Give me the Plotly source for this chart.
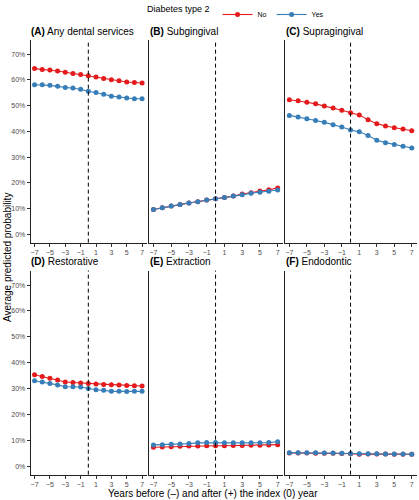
import plotly.graph_objects as go

# ---------------- data ----------------
years = [-7, -6, -5, -4, -3, -2, -1, 0, 1, 2, 3, 4, 5, 6, 7]
index_year = 0

panel_titles = ["Any dental services", "Subgingival", "Supragingival",
                "Restorative", "Extraction", "Endodontic"]
panel_letters = ["(A)", "(B)", "(C)", "(D)", "(E)", "(F)"]

# Average predicted probability (%) — Diabetes type 2 = No
any_no = [64.4, 64.1, 63.9, 63.5, 63.0, 62.5, 62.1, 61.6, 61.1, 60.6, 60.1, 59.7, 59.2, 59.0, 58.8]
sub_no = [9.6, 10.3, 11.0, 11.5, 12.1, 12.6, 13.3, 13.8, 14.3, 14.8, 15.6, 16.1, 16.8, 17.3, 18.0]
supra_no = [52.3, 51.9, 51.3, 50.7, 49.9, 49.1, 48.2, 47.2, 46.4, 44.5, 43.0, 42.1, 41.4, 40.9, 40.2]
rest_no = [35.3, 34.6, 34.0, 33.3, 32.5, 32.3, 32.1, 31.9, 31.7, 31.6, 31.5, 31.4, 31.2, 31.1, 31.0]
extr_no = [7.3, 7.4, 7.5, 7.7, 7.8, 7.8, 7.9, 7.9, 7.9, 8.0, 8.0, 8.1, 8.1, 8.2, 8.3]
endo_no = [5.1, 5.1, 5.1, 5.0, 5.0, 5.0, 4.9, 4.8, 4.6, 4.7, 4.7, 4.7, 4.6, 4.6, 4.6]

# Diabetes type 2 = Yes
any_yes = [58.1, 58.1, 57.9, 57.5, 57.1, 56.9, 56.4, 55.6, 55.1, 54.4, 53.7, 53.4, 53.0, 52.7, 52.7]
sub_yes = [9.6, 10.3, 11.0, 11.5, 12.1, 12.6, 13.3, 13.8, 14.3, 14.8, 15.3, 15.9, 16.3, 16.7, 17.2]
supra_yes = [46.2, 45.6, 44.9, 44.2, 43.5, 42.6, 41.7, 40.5, 39.8, 38.4, 36.5, 35.6, 34.9, 34.2, 33.5]
rest_yes = [33.0, 32.5, 31.9, 31.4, 30.7, 30.7, 30.6, 30.0, 29.5, 29.3, 28.9, 28.9, 28.8, 28.9, 28.9]
extr_yes = [8.2, 8.3, 8.5, 8.6, 8.7, 9.0, 9.1, 9.1, 9.0, 9.0, 9.0, 9.0, 9.0, 9.1, 9.4]
endo_yes = [5.2, 5.2, 5.2, 5.2, 5.1, 5.1, 5.0, 4.9, 4.8, 4.8, 4.8, 4.7, 4.7, 4.7, 4.6]

series_no = [any_no, sub_no, supra_no, rest_no, extr_no, endo_no]
series_yes = [any_yes, sub_yes, supra_yes, rest_yes, extr_yes, endo_yes]

x_tick_vals = [-7, -5, -3, -1, 1, 3, 5, 7]
x_tick_labels = ["\u22127", "\u22125", "\u22123", "\u22121", "1", "3", "5", "7"]
y_tick_vals = [0, 10, 20, 30, 40, 50, 60, 70]
y_tick_labels = ["0%", "10%", "20%", "30%", "40%", "50%", "60%", "70%"]

group_labels = ["No", "Yes"]
group_colors = ["#E41A1C", "#377EB8"]

# ---------------- layout geometry ----------------
W, H = 419, 500
col_px = [(30.7, 146.7), (149.0, 283.0), (285.0, 417.0)]
row_px = [(33.3, 239.0), (267.3, 474.3)]
title_y_px = [25.0, 258.3]

FONT = "Liberation Sans, Arial, sans-serif"

fig = go.Figure()
layout_axes = {}
shapes = []
annotations = []

for i in range(6):
    r, c = divmod(i, 3)
    ax = "" if i == 0 else str(i + 1)
    xa, ya = "x" + ax, "y" + ax
    for g, (vals, name, col) in enumerate(zip([series_no[i], series_yes[i]], group_labels, group_colors)):
        fig.add_trace(go.Scatter(
            x=years, y=vals, mode="lines+markers", name=name,
            line=dict(color=col, width=1.1),
            marker=dict(color=col, size=5),
            xaxis=xa, yaxis=ya, legendgroup=name, showlegend=(i == 0),
        ))
    x0, x1 = col_px[c]
    y0, y1 = row_px[r]
    layout_axes["xaxis" + ax] = dict(
        domain=[x0 / W, x1 / W], anchor=ya, range=[-7.5, 7.6],
        tickvals=x_tick_vals, ticktext=x_tick_labels,
        ticks="outside", ticklen=3, tickcolor="#333333", tickwidth=1,
        showline=True, linecolor="#222222", linewidth=1,
        showgrid=False, zeroline=False,
        tickfont=dict(size=7, color="#4D4D4D", family=FONT),
    )
    layout_axes["yaxis" + ax] = dict(
        domain=[1 - y1 / H, 1 - y0 / H], anchor=xa, range=[-3.3, 75.6],
        tickvals=y_tick_vals, ticktext=y_tick_labels,
        showticklabels=(c == 0), ticks="outside" if c == 0 else "",
        ticklen=3, tickcolor="#333333", tickwidth=1,
        showline=True, linecolor="#222222", linewidth=1,
        showgrid=False, zeroline=False,
        tickfont=dict(size=7, color="#4D4D4D", family=FONT),
    )
    shapes.append(dict(type="line", xref=xa, yref=ya + " domain",
                       x0=index_year, x1=index_year, y0=0, y1=1,
                       line=dict(color="black", width=1, dash="4px,3px")))
    annotations.append(dict(
        text="<b>" + panel_letters[i] + "</b> " + panel_titles[i],
        xref="paper", yref="paper", x=(x0 - 1.5) / W, y=1 - title_y_px[r] / H,
        xanchor="left", yanchor="middle", showarrow=False,
        font=dict(size=10, color="black", family=FONT),
    ))

annotations.append(dict(
    text="Years before (\u2013) and after (+) the index (0) year",
    xref="paper", yref="paper", x=213 / W, y=1 - 493 / H,
    xanchor="center", yanchor="middle", showarrow=False,
    font=dict(size=10, color="black", family=FONT),
))
annotations.append(dict(
    text="Average predicted probability",
    xref="paper", yref="paper", x=7.5 / W, y=1 - 254 / H, textangle=-90,
    xanchor="center", yanchor="middle", showarrow=False,
    font=dict(size=10, color="black", family=FONT),
))

fig.update_layout(
    width=W, height=H,
    margin=dict(l=0, r=0, t=0, b=0),
    paper_bgcolor="white", plot_bgcolor="white",
    font=dict(family=FONT),
    shapes=shapes, annotations=annotations,
    legend=dict(
        orientation="h", x=145 / W, y=1.015, xanchor="left", yanchor="top",
        title=dict(text="Diabetes type 2", side="left", font=dict(size=9, color="black", family=FONT)),
        font=dict(size=7, color="black", family=FONT),
        itemwidth=30, bgcolor="rgba(0,0,0,0)", tracegroupgap=0,
    ),
    **layout_axes,
)

fig.write_html(
    "out.html",
    config={"displayModeBar": False},
    post_script="document.body.style.margin='0';document.body.style.overflow='hidden';",
)
